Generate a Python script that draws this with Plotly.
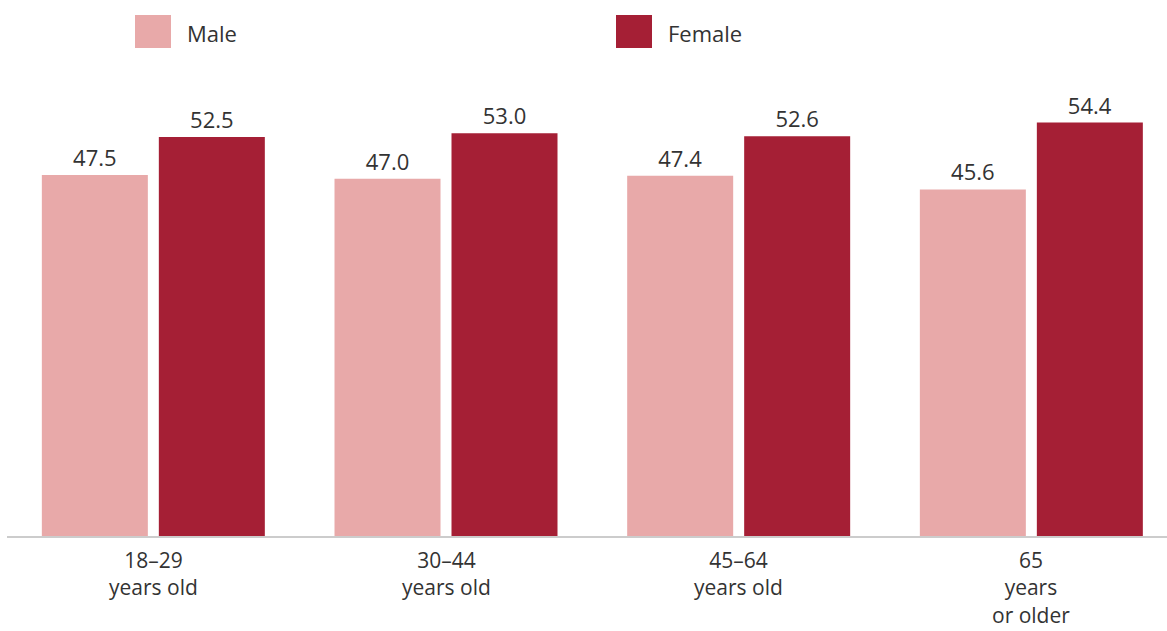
import plotly.graph_objects as go

categories = ["18–29<br>years old", "30–44<br>years old", "45–64<br>years old", "65<br>years<br>or older"]
male = [47.5, 47.0, 47.4, 45.6]
female = [52.5, 53.0, 52.6, 54.4]
series_names = ["Male", "Female"]
colors = ["#E8A9A9", "#A51F35"]

x = list(range(len(categories)))
font_family = "Open Sans, Lato, sans-serif"
txt_color = "#333333"
FS = 22
CAT_FS = 21

W = 1167
H = 631
ml, mb, mt = 7, 95, 80
pw = W - ml
ph = H - mb - mt
slot = 292.67


def px_x(p):
    return (p - ml) / pw


def px_y(p):
    return (H - mb - p) / ph


fig = go.Figure()
for name, vals, col in zip(series_names, [male, female], colors):
    fig.add_trace(go.Bar(
        x=x, y=vals, name=name, marker=dict(color=col, line=dict(width=0)),
        text=[f"{v:.1f}" for v in vals], textposition="outside",
        textfont=dict(size=FS, color=txt_color, family=font_family),
        cliponaxis=False, showlegend=False,
    ))

# custom legend
for name, col, lx in zip(series_names, colors, [135, 616]):
    fig.add_shape(type="rect", xref="paper", yref="paper",
                  x0=px_x(lx), x1=px_x(lx + 36), y0=px_y(48), y1=px_y(15),
                  fillcolor=col, line=dict(width=0))
    fig.add_annotation(text=name, xref="paper", yref="paper",
                       x=px_x(lx + 50), y=px_y(33), xanchor="left", yanchor="middle",
                       showarrow=False, font=dict(size=FS, color=txt_color, family=font_family))

# category labels
for xi, cat in zip(x, categories):
    fig.add_annotation(text=cat, xref="x", yref="paper",
                       x=xi, y=px_y(545), xanchor="center", yanchor="top",
                       showarrow=False, borderpad=0, align="center",
                       font=dict(size=CAT_FS, color=txt_color, family=font_family))

fig.update_layout(
    width=W, height=H,
    margin=dict(l=ml, r=0, t=mt, b=mb, pad=0),
    paper_bgcolor="white", plot_bgcolor="white",
    barmode="group", bargap=0.2005, bargroupgap=0.094,
    font=dict(family=font_family, color=txt_color, size=FS),
    xaxis=dict(
        range=[-0.5, -0.5 + pw / slot], tickvals=x, showticklabels=False,
        showline=True, linecolor="#CCCCCC", linewidth=2, showgrid=False,
        zeroline=False, ticks="", automargin=False, fixedrange=True,
    ),
    yaxis=dict(range=[0, 60], visible=False, showgrid=False, zeroline=False,
               automargin=False),
)

fig.write_html("out.html")
